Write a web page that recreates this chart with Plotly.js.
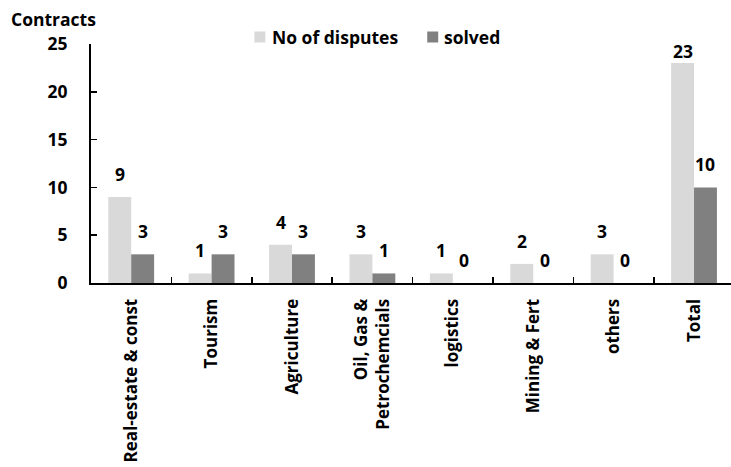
<!DOCTYPE html>
<html>
<head>
<meta charset="utf-8">
<script src="https://cdn.plot.ly/plotly-3.0.1.min.js"></script>
<style>html,body{margin:0;padding:0;background:#fff;}#chart{width:731px;height:467px;}</style>
</head>
<body>
<div id="chart"></div>
<script>
// ---- data ----
var categories = ["Real-estate & const", "Tourism", "Agriculture", "Oil, Gas &<br>Petrochemcials", "logistics", "Mining & Fert", "others", "Total"];
var disputes = [9, 1, 4, 3, 1, 2, 3, 23];
var solved = [3, 3, 3, 1, 0, 0, 0, 10];
var seriesNames = ["No of disputes", "solved"];
var yTicks = [0, 5, 10, 15, 20, 25];
var yTitle = "Contracts";

// ---- style ----
var W = 731, H = 467;
var ml = 90.5, mr = 0, mt = 44, mb = 184;
var plotW = W - ml - mr, plotH = H - mt - mb;
var colors = ["#d9d9d9", "#808080"];
var FONT = "'Open Sans', 'Noto Sans', sans-serif";
var FS = 17.5;
var barW = 0.285;
var yMax = 25;
var ppu = plotH / yMax;
var labelLift = 23;

function px2x(px) { return (px - ml) / plotW; }
function py2y(py) { return (H - mb - py) / plotH; }

var traces = [
  { type: "bar", x: categories, y: disputes, name: seriesNames[0], marker: { color: colors[0] }, width: barW, offset: -barW, showlegend: false, hoverinfo: "y" },
  { type: "bar", x: categories, y: solved, name: seriesNames[1], marker: { color: colors[1] }, width: barW, offset: 0, showlegend: false, hoverinfo: "y" }
];

var annotations = [];
function addLabels(vals, center) {
  vals.forEach(function (v, i) {
    var lift = Math.min(labelLift, (yMax - v) * ppu - 6.5);
    annotations.push({
      x: i + center, y: v, xref: "x", yref: "y", text: String(v), showarrow: false,
      yanchor: "middle", xanchor: "center", yshift: lift,
      font: { family: FONT, size: FS, color: "#000", weight: 700 }
    });
  });
}
addLabels(disputes, -barW / 2);
addLabels(solved, barW / 2);

// custom legend
var legendItems = [
  { sq: 254, tx: 272, name: seriesNames[0], color: colors[0] },
  { sq: 427, tx: 444, name: seriesNames[1], color: colors[1] }
];
var shapes = [];
legendItems.forEach(function (it) {
  shapes.push({ type: "rect", xref: "paper", yref: "paper", x0: px2x(it.sq), x1: px2x(it.sq + 11), y0: py2y(42.5), y1: py2y(31.5), fillcolor: it.color, line: { width: 0 } });
  annotations.push({ xref: "paper", yref: "paper", x: px2x(it.tx - 2), y: py2y(37), xanchor: "left", yanchor: "middle", text: it.name, showarrow: false, font: { family: FONT, size: FS, color: "#000", weight: 700 } });
});

var layout = {
  width: W, height: H,
  margin: { l: ml, r: mr, t: mt, b: mb, pad: 0 },
  paper_bgcolor: "#fff", plot_bgcolor: "#fff",
  barmode: "overlay",
  showlegend: false,
  title: { text: yTitle, xref: "container", yref: "container", x: 11 / W, xanchor: "left", y: 1 - 20 / H, yanchor: "middle", font: { family: FONT, size: FS, color: "#000", weight: 700 } },
  xaxis: {
    type: "category", range: [-0.5, 7.46], tickson: "boundaries", ticks: "inside", ticklen: 6, tickwidth: 1.5, tickcolor: "#000",
    showline: true, linecolor: "#000", linewidth: 2, showgrid: false, zeroline: false, tickangle: -90,
    ticklabelstandoff: 7,
    tickfont: { family: FONT, size: 17, color: "#000", weight: 700 }, fixedrange: true
  },
  yaxis: {
    range: [0, yMax], tickvals: yTicks, ticks: "inside", ticklen: 6, tickwidth: 1.5, tickcolor: "#000",
    showline: true, linecolor: "#000", linewidth: 2, showgrid: false, zeroline: false,
    ticklabelstandoff: 18,
    tickfont: { family: FONT, size: FS, color: "#000", weight: 700 }, fixedrange: true
  },
  annotations: annotations,
  shapes: shapes
};

Plotly.newPlot("chart", traces, layout, { displayModeBar: false, staticPlot: true });
</script>
</body>
</html>
